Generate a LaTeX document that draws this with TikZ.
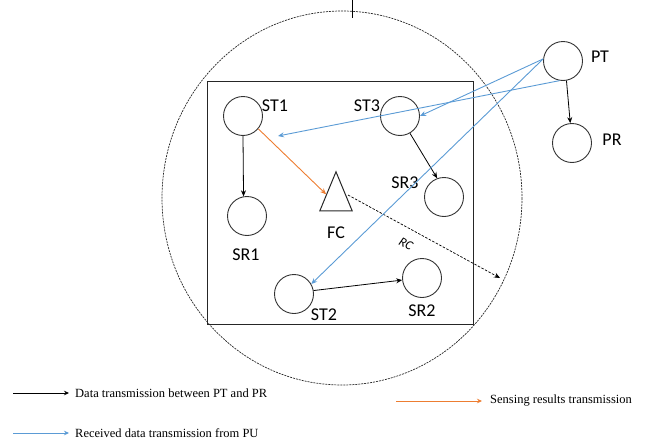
\documentclass[tikz,border=0pt]{standalone}
\usepackage{fontspec}
\setmainfont{Carlito}
\newfontfamily\legendfont{Liberation Serif}
\usetikzlibrary{arrows.meta,shapes.geometric,calc}
\definecolor{bluel}{RGB}{91,155,213}
\definecolor{orangel}{RGB}{237,125,49}
\begin{document}
\begin{tikzpicture}[x=1pt,y=-1pt,
  dev/.style={circle,draw=black!80,line width=0.9pt,minimum size=39pt,inner sep=0pt},
  lbl/.style={font=\fontsize{18}{20}\selectfont,inner sep=0pt},
  blk/.style={draw=black,line width=0.8pt,-{Stealth[length=6pt,width=5pt]}},
  blu/.style={draw=bluel,line width=0.9pt,-{Stealth[length=6pt,width=5pt]}},
  org/.style={draw=orangel,line width=0.9pt,-{Stealth[length=6pt,width=5pt]}},
  leg/.style={font=\legendfont\fontsize{12.5}{14}\selectfont,anchor=west,inner sep=0pt}]
\useasboundingbox (0,0) rectangle (646,442);
% big dashed coverage area
\draw[black!85,line width=0.7pt,dash pattern=on 2pt off 1pt] (342,198) ellipse [x radius=180, y radius=187];
\draw[black,line width=0.8pt] (352,0) -- (352,18);
% SU area
\draw[black!85,line width=1pt] (207,81) rectangle (473,324);
% nodes
\node[dev] (ST1) at (243,116) {};
\node[dev] (ST3) at (400,116) {};
\node[dev] (SR1) at (247,216) {};
\node[dev] (SR3) at (444,197) {};
\node[dev] (ST2) at (294,294) {};
\node[dev] (SR2) at (422,278) {};
\node[dev] (PT) at (563,61) {};
\node[dev] (PR) at (572,143) {};
\node[isosceles triangle,shape border rotate=90,isosceles triangle apex angle=45,draw=black!85,line width=1pt,minimum height=39pt,inner sep=0pt] (FC) at (336,200) {};
% labels
\node[lbl] (lST1) at (275,106) {ST1};
\node[lbl] (lST3) at (367,106) {ST3};
\node[lbl] (lSR1) at (246,255) {SR1};
\node[lbl] (lFC) at (336,233) {FC};
\node[lbl] (lSR3) at (405,183) {SR3};
\node[lbl] (lST2) at (324,315) {ST2};
\node[lbl] (lSR2) at (422,311) {SR2};
\node[lbl] (lPT) at (600,57) {PT};
\node[lbl] (lPR) at (612,140) {PR};
\node[font=\itshape\fontsize{13}{15}\selectfont,rotate=-28,inner sep=0pt] (lRC) at (406,244) {RC};
% black arrows
\draw[blk] (ST1.south) -- (SR1.100);
\draw[blk] (ST3.-60) -- (SR3.110);
\draw[blk] (ST2.10) -- (SR2.186);
\draw[blk] (PT.-80) -- (PR.95);
% dashed RC arrow
\coordinate (RCend) at (500,278);
\draw[black,line width=0.7pt,dash pattern=on 2.5pt off 1.5pt,-{Stealth[length=6pt,width=5pt]}] (348,195) -- (RCend);
% orange
\draw[org] (ST1.-40) -- (FC.150);
% blue
\coordinate (ST1in) at (278,136);
\draw[blu] (PT.174) -- (ST3.east);
\draw[blu] (PT.174) -- (ST2.30);
\draw[blu] (PT.-100) -- (ST1in);
% legend
\coordinate (k1a) at (13,393); \coordinate (k1b) at (69,393);
\draw[black,line width=0.8pt,-{Stealth[length=5pt,width=4.5pt]}] (k1a) -- (k1b);
\node[leg] (t1) at (75,393) {Data transmission between PT and PR};
\coordinate (k2a) at (13,433); \coordinate (k2b) at (69,433);
\draw[bluel,line width=0.8pt,-{Stealth[length=5pt,width=4.5pt]}] (k2a) -- (k2b);
\node[leg] (t2) at (75,433) {Received data transmission from PU};
\coordinate (k3a) at (396,401); \coordinate (k3b) at (482,401);
\draw[orangel,line width=0.8pt,-{Stealth[length=5pt,width=4.5pt]}] (k3a) -- (k3b);
\node[leg] (t3) at (490,401) {Sensing results transmission};
\end{tikzpicture}
\end{document}
